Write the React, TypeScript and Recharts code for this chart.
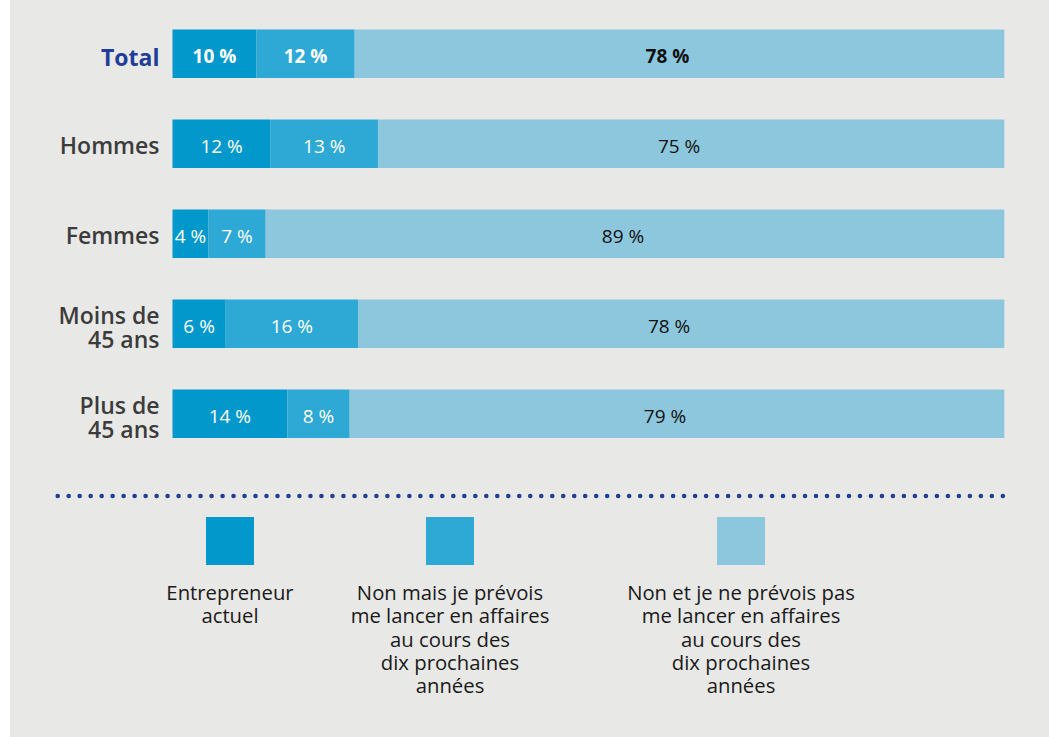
import React from 'react';
import { BarChart, Bar, XAxis, YAxis, LabelList, Legend } from 'recharts';

// ---- data ----
const categories = ['Total', 'Hommes', 'Femmes', 'Moins de 45 ans', 'Plus de 45 ans'];
const tickLines = [['Total'], ['Hommes'], ['Femmes'], ['Moins de', '45 ans'], ['Plus de', '45 ans']];
const highlightCategory = 'Total';

const entrepreneur = [10.1, 11.8, 4.3, 6.4, 13.8];
const planning = [11.8, 12.9, 6.9, 15.9, 7.5];
const notPlanning = [78.1, 75.3, 88.8, 77.7, 78.7];

const seriesKeys = ['a', 'b', 'c'];
const seriesNames = [
  'Entrepreneur actuel',
  'Non mais je prévois me lancer en affaires au cours des dix prochaines années',
  'Non et je ne prévois pas me lancer en affaires au cours des dix prochaines années',
];
const legendLines = [
  ['Entrepreneur', 'actuel'],
  ['Non mais je prévois', 'me lancer en affaires', 'au cours des', 'dix prochaines', 'années'],
  ['Non et je ne prévois pas', 'me lancer en affaires', 'au cours des', 'dix prochaines', 'années'],
];

// ---- styles / layout ----
const FONT = "'Open Sans', sans-serif";
const COLORS = ['#0398CB', '#2EA8D4', '#8DC7DD'];
const BG = '#E8E8E6';
const NAVY = '#1F3D99';
const legendCenters = [230, 450, 741];

const data = categories.map((c, i) => ({
  category: c,
  a: entrepreneur[i],
  b: planning[i],
  c: notPlanning[i],
}));

const CategoryTick = (props: any) => {
  const { x, y, payload } = props;
  const i = categories.indexOf(payload.value);
  const lines = tickLines[i] ?? [payload.value];
  const isHl = payload.value === highlightCategory;
  const offsets = lines.length === 1 ? [isHl ? 4 : 2] : [-8, 16];
  return (
    <g>
      {lines.map((l: string, k: number) => (
        <text
          key={k}
          x={x}
          y={y + offsets[k] + 8.2}
          textAnchor="end"
          fontFamily={FONT}
          fontSize={23}
          fontWeight={isHl ? 700 : 600}
          fill={isHl ? NAVY : '#3C3C3C'}
        >
          {l}
        </text>
      ))}
    </g>
  );
};

const makeLabel = (color: string, dx: number) => (props: any) => {
  const vb = props.viewBox ?? props;
  const x = vb.x ?? props.x;
  const y = vb.y ?? props.y;
  const w = vb.width ?? props.width;
  const h = vb.height ?? props.height;
  const idx = props.index;
  const isHl = categories[idx] === highlightCategory;
  const v = Math.round(Number(props.value));
  return (
    <text
      x={x + w / 2 + dx}
      y={y + h / 2 + 9}
      textAnchor="middle"
      fontFamily={FONT}
      fontSize={19}
      fontWeight={isHl ? 700 : 400}
      fill={color}
    >
      {`${v} %`}
    </text>
  );
};

const LegendContent = (props: any) => {
  const payload = [...(props.payload ?? [])];
  payload.sort(
    (p: any, q: any) => seriesKeys.indexOf(String(p.dataKey)) - seriesKeys.indexOf(String(q.dataKey))
  );
  return (
    <svg width={1049} height={257} style={{ display: 'block' }}>
      <line
        x1={57.7}
        y1={16}
        x2={1013.7}
        y2={16}
        stroke={NAVY}
        strokeWidth={4.6}
        strokeDasharray="0 10.99"
        strokeLinecap="round"
      />
      {payload.map((p: any, i: number) => {
        const si = seriesKeys.indexOf(String(p.dataKey));
        const cx = legendCenters[si];
        const lines = legendLines[si] ?? [p.value];
        return (
          <g key={i}>
            <rect x={cx - 24} y={37} width={48} height={48} fill={p.color} />
            {lines.map((l: string, k: number) => (
              <text
                key={k}
                x={cx}
                y={120 + k * 23.3}
                textAnchor="middle"
                fontFamily={FONT}
                fontSize={20.3}
                fill="#1A1A1A"
              >
                {l}
              </text>
            ))}
          </g>
        );
      })}
    </svg>
  );
};

export default function App() {
  return (
    <div style={{ position: 'absolute', left: 0, top: 0, width: 1049, height: 737, background: '#FFFFFF' }}>
      <div style={{ position: 'absolute', left: 10, top: 0, width: 1039, height: 737, background: BG }} />
      <div style={{ position: 'absolute', left: 0, top: 0 }}>
        <BarChart
          width={1049}
          height={737}
          data={data}
          layout="vertical"
          margin={{ top: 8.5, right: 44.7, bottom: 278.5, left: 0 }}
          barSize={48.5}
        >
          <XAxis type="number" domain={[0, 100]} hide />
          <YAxis
            type="category"
            dataKey="category"
            width={172.5}
            axisLine={false}
            tickLine={false}
            tickSize={0}
            tickMargin={13}
            tick={<CategoryTick />}
            interval={0}
          />
          <Legend
            layout="horizontal"
            verticalAlign="middle"
            align="center"
            content={<LegendContent />}
            wrapperStyle={{ position: 'absolute', left: 0, top: 480, width: 1049, height: 257 }}
          />
          <Bar dataKey="a" name={seriesNames[0]} stackId="s" fill={COLORS[0]} isAnimationActive={false}>
            <LabelList dataKey="a" content={makeLabel('#FFFFFF', 0)} />
          </Bar>
          <Bar dataKey="b" name={seriesNames[1]} stackId="s" fill={COLORS[1]} isAnimationActive={false}>
            <LabelList dataKey="b" content={makeLabel('#FFFFFF', 0)} />
          </Bar>
          <Bar dataKey="c" name={seriesNames[2]} stackId="s" fill={COLORS[2]} isAnimationActive={false}>
            <LabelList dataKey="c" content={makeLabel('#111111', -12)} />
          </Bar>
        </BarChart>
      </div>
    </div>
  );
}
